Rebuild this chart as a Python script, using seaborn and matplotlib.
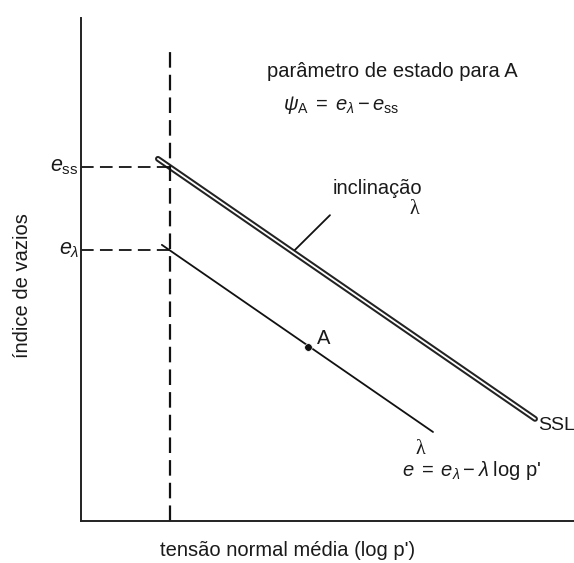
import matplotlib
matplotlib.use("Agg")
import matplotlib.pyplot as plt
import seaborn as sns
import pandas as pd

# ---- data (schematic units: x = log p', y = void ratio e) ----
ssl_x = [1.56, 9.21]
ssl_y = [7.20, 2.03]
ncl_x = [1.64, 7.14]
ncl_y = [5.49, 1.77]
point_A = [4.60, 3.46]
p_ref = 1.8
e_ss = 7.04
e_lam = 5.39
ref_top = 9.32
slope_tick_x = [4.34, 5.05]
slope_tick_y = [5.39, 6.08]

x_label = "tensão normal média (log p')"
y_label = "índice de vazios"

sns.set_theme(style="white")
plt.rcParams['font.family'] = ['Liberation Sans', 'DejaVu Sans']
plt.rcParams['mathtext.fontset'] = 'custom'
plt.rcParams['mathtext.rm'] = 'Liberation Sans'
plt.rcParams['mathtext.it'] = 'Liberation Sans:italic'
plt.rcParams['mathtext.sf'] = 'Liberation Sans'

fig = plt.figure(figsize=(5.74, 5.63), dpi=100)
fig.patch.set_facecolor('white')
ax = fig.add_axes([81/574, 42/563, 493/574, 503/563])
ax.set_xlim(0, 10)
ax.set_ylim(0, 10)
ax.set_facecolor('white')

FS = 14.5
TC = '#1a1a1a'

# SSL double line
ssl_df = pd.DataFrame({'x': ssl_x, 'y': ssl_y})
sns.lineplot(data=ssl_df, x='x', y='y', ax=ax, color='#222222', lw=4.2, sort=False)
sns.lineplot(data=ssl_df, x='x', y='y', ax=ax, color='white', lw=1.3, sort=False)

# parallel line through A
ncl_df = pd.DataFrame({'x': ncl_x, 'y': ncl_y})
sns.lineplot(data=ncl_df, x='x', y='y', ax=ax, color='#111111', lw=1.3, sort=False)

# slope tick
sns.lineplot(x=slope_tick_x, y=slope_tick_y, ax=ax, color='#111111', lw=1.3, sort=False)

# point A
sns.scatterplot(x=[point_A[0]], y=[point_A[1]], ax=ax, color='#111111', s=30, zorder=5)

# reference dashed lines
ax.plot([p_ref, p_ref], [0, ref_top], color='#111111', lw=1.6, dashes=(7, 3.2), clip_on=False)
ax.plot([0, p_ref], [e_ss, e_ss], color='#111111', lw=1.3, dashes=(7, 3.5), clip_on=False)
ax.plot([0, p_ref], [e_lam, e_lam], color='#111111', lw=1.3, dashes=(7, 3.5), clip_on=False)

# axes
for s in ['top', 'right']:
    ax.spines[s].set_visible(False)
for s in ['left', 'bottom']:
    ax.spines[s].set_color('#222222')
    ax.spines[s].set_linewidth(1.4)
ax.set_xticks([])
ax.set_yticks([])
ax.set_xlabel('')
ax.set_ylabel('')

# texts
ax.text(3.77, 8.93, 'parâmetro de estado para A', fontsize=FS, ha='left', va='center', color=TC)
ax.text(4.10, 8.27, r'$\psi_{\mathrm{A}}\;=\;e_{\lambda}-e_{\mathrm{ss}}$', fontsize=FS, ha='left', va='center', color=TC)
ax.text(5.11, 6.62, 'inclinação', fontsize=FS, ha='left', va='center', color=TC)
ax.text(6.77, 6.20, 'λ', fontsize=FS, ha='center', va='center', family='Liberation Serif', color=TC)
ax.text(9.27, 1.89, 'SSL', fontsize=FS - 0.5, ha='left', va='center', color=TC)
ax.text(6.88, 1.43, 'λ', fontsize=FS, ha='center', va='center', family='Liberation Serif', color=TC)
ax.text(6.51, 1.01, r"$e\;=\;e_{\lambda}-\lambda\;$log p'", fontsize=FS, ha='left', va='center', color=TC)
ax.text(4.79, 3.62, 'A', fontsize=FS, ha='left', va='center', color=TC)
ax.text(-0.06, 7.04, r'$e_{\mathrm{ss}}$', fontsize=FS + 1, ha='right', va='center', color=TC)
ax.text(-0.02, 5.39, r'$e_{\lambda}$', fontsize=FS + 1, ha='right', va='center', color=TC)
ax.text(-1.18, 4.69, y_label, fontsize=FS, rotation=90, ha='center', va='center', color=TC)
ax.text(4.2, -0.58, x_label, fontsize=FS, ha='center', va='center', color=TC)

fig.savefig('out.png', dpi=100, facecolor='white')
